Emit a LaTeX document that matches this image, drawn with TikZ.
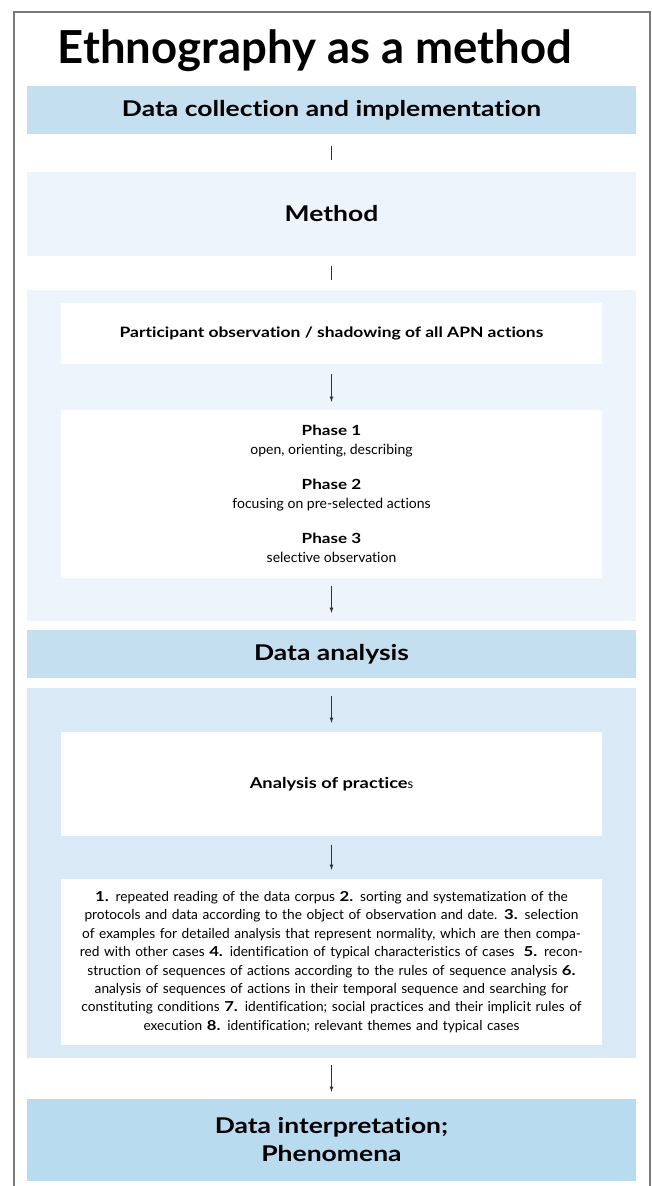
\documentclass[tikz,border=0pt]{standalone}
\usepackage{fontspec}
\setmainfont{Lato}[Ligatures=NoCommon, BoldFeatures={FakeStretch=1.22}]
\newfontfamily\titlefont{Lato}[Ligatures=NoCommon]
\usepackage{xcolor}
\usepackage{tikz}
\definecolor{bandblue}{HTML}{C3DFF0}
\definecolor{paleblue}{HTML}{EEF4FB}
\definecolor{midblue}{HTML}{D9EAF6}
\definecolor{deepblue}{HTML}{B9DBF0}
\definecolor{framegray}{HTML}{7A7A7A}
\tikzset{>=latex,
    band/.style={fill=bandblue, minimum width=609pt, inner sep=0pt, align=center,
        font=\fontsize{21.7}{28}\selectfont\bfseries},
    panel/.style={minimum width=609pt, inner sep=0pt},
    card/.style={fill=white, minimum width=541pt, inner sep=0pt, align=center},
    flow/.style={draw=black!80, line width=0.8pt}}

\begin{document}
\begin{tikzpicture}[x=1pt, y=-1pt]
    \useasboundingbox[fill=white] (0,0) rectangle (651,1186);
    \draw[framegray, line width=2pt] (13.5,1190) -- (13.5,12) -- (649.5,12) -- (649.5,1190);
    \node[anchor=base, font=\titlefont\fontsize{45.5}{50}\selectfont\bfseries] (title) at (315,63) {Ethnography as a method};
    \node[band, minimum height=48pt] (collect) at (331.5,110) {Data collection and implementation};
    \node[band, fill=paleblue, minimum height=84pt] (method) at (331.5,214) {Method};
    \node[panel, fill=paleblue, minimum height=331pt] (fieldwork) at (331.5,455.5) {};
    \node[card, minimum height=61pt, font=\fontsize{14.3}{19}\selectfont\bfseries] (observe) at (331.5,333.5)
        {Participant observation / shadowing of all APN actions};
    \node[card, minimum height=168pt, font=\fontsize{14}{18.5}\selectfont] (phases) at (331.5,494)
        {\textbf{Phase 1}\\ open, orienting, describing\\[17pt]
         \textbf{Phase 2}\\ focusing on pre-selected actions\\[17pt]
         \textbf{Phase 3}\\ selective observation};
    \node[band, minimum height=48pt] (analysis) at (331.5,654) {Data analysis};
    \node[panel, fill=midblue, minimum height=370pt] (workup) at (331.5,873) {};
    \node[card, minimum height=104pt, font=\fontsize{15}{19}\selectfont\bfseries] (practices) at (331.5,784)
        {Analysis of practice{\mdseries\fontsize{13}{19}\selectfont s}};
    \node[card, minimum height=166pt, text width=535pt, font=\fontsize{13.7}{18.4}\selectfont] (steps) at (331.5,962)
        {\textbf{1.} repeated reading of the data corpus \textbf{2.} sorting and systematization of the\\
         protocols and data according to the object of observation and date. \textbf{3.} selection\\
         of examples for detailed analysis that represent normality, which are then compa-\\
         red with other cases \textbf{4.} identification of typical characteristics of cases\ \ \textbf{5.} recon-\\
         struction of sequences of actions according to the rules of sequence analysis \textbf{6.}\\
         analysis of sequences of actions in their temporal sequence and searching for\\
         constituting conditions \textbf{7.} identification; social practices and their implicit rules of\\
         execution \textbf{8.} identification; relevant themes and typical cases};
    \node[band, fill=deepblue, minimum height=82pt] (interp) at (331.5,1140) {Data interpretation;\\ Phenomena};
    \draw[flow, shorten <=12pt, shorten >=12pt] (collect) -- (method);
    \draw[flow, shorten <=10pt, shorten >=10pt] (method) -- (fieldwork);
    \draw[flow, ->, shorten <=10pt, shorten >=8pt] (observe) -- (phases);
    \draw[flow, ->, shorten <=8pt, shorten >=17pt] (phases) -- (analysis);
    \draw[flow, ->, shorten <=18pt, shorten >=9pt] (analysis) -- (practices);
    \draw[flow, ->, shorten <=9pt, shorten >=9pt] (practices) -- (steps);
    \draw[flow, ->, shorten <=20pt, shorten >=7pt] (steps) -- (interp);
\end{tikzpicture}
\end{document}
